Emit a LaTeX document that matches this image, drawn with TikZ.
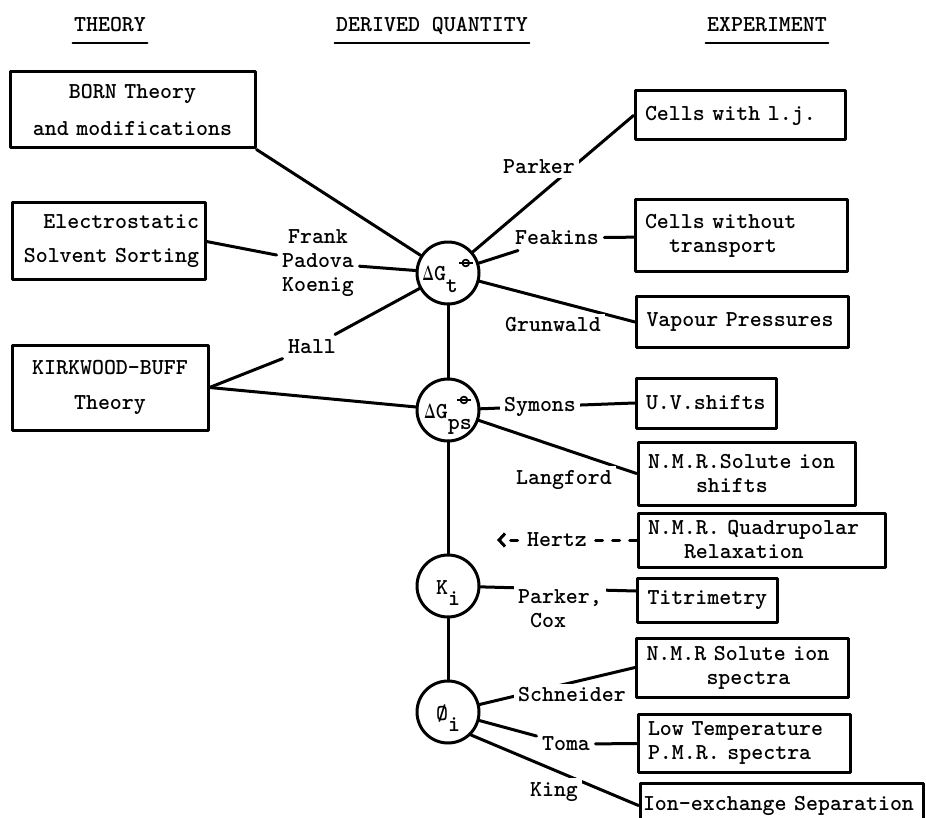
\documentclass[tikz,border=0pt]{standalone}
\usepackage{graphicx}
\usetikzlibrary{arrows.meta}
% standard-state sign, Delta G, lowered subscript
\newcommand{\plim}{\tikz[baseline=0pt,line width=1.7pt]{\draw (0pt,0pt) circle (3.4pt); \draw (-7pt,0pt) -- (7pt,0pt);}}
\newcommand{\dG}{\scalebox{0.6}[1]{$\boldsymbol{\Delta}$}G}
\newcommand{\lo}[1]{\raisebox{-11pt}{#1}}
\usepackage{amsmath}
\begin{document}
\begin{tikzpicture}[x=1pt,y=-1pt,line width=3pt,line join=round,line cap=round,
  >={Straight Barb[length=6pt,width=13pt]},
  font=\fontsize{22.8}{24}\selectfont\ttfamily\bfseries\frenchspacing,
  head/.style={anchor=base,inner sep=0pt},
  uline/.style={line width=2.2pt},
  box/.style={draw,inner xsep=10pt,inner ysep=0pt,align=left},
  qty/.style={circle,draw,minimum size=62pt,inner sep=0pt,text height=16pt,text depth=0pt},
  lbl/.style={fill=white,inner sep=4pt}]
\useasboundingbox (0,0) rectangle (926,818);

% headings
\node[head] (th) at (110,32) {THEORY};
\node[head] (dq) at (432,32) {DERIVED QUANTITY};
\node[head] (ex) at (767,32) {EXPERIMENT};
\draw[uline] ([yshift=-11pt]th.base west) -- ([yshift=-11pt]th.base east);
\draw[uline] ([yshift=-11pt]dq.base west) -- ([yshift=-11pt]dq.base east);
\draw[uline] ([yshift=-11pt]ex.base west) -- ([yshift=-11pt]ex.base east);

% theory
\node[box,align=center,text width=225pt,minimum height=76pt] (born) at (132.5,110) {BORN Theory\\[13pt]and modifications};
\node[box,align=right,inner xsep=6pt,text width=181pt,minimum height=77pt] (es) at (108.5,241.5) {Electrostatic\\[10pt]Solvent Sorting};
\node[box,align=center,text width=176pt,minimum height=85pt] (kb) at (110,387.5) {KIRKWOOD-BUFF\\[11pt]Theory};

% derived quantities
\node[qty] (dgt) at (448,273) {\dG\lo{t}\raisebox{18pt}{\plim}};
\node[qty] (dgps) at (448,410) {\dG\lo{ps}\llap{\raisebox{18pt}{\plim}}};
\node[qty] (ki) at (448,586) {K\lo{i}};
\node[qty] (phi) at (448,712) {\O\lo{i}};

% experiment
\node[box,text width=190pt,minimum height=49pt] (lj) at (740,115.5) {Cells with l.j.};
\node[box,text width=192pt,minimum height=72pt] (cwt) at (741,236) {Cells without\\\hspace*{24pt}transport};
\node[box,text width=192pt,minimum height=50pt] (vp) at (742.5,322) {Vapour Pressures};
\node[box,text width=120pt,minimum height=50pt] (uv) at (706,403) {U.V.shifts};
\node[box,text width=197pt,minimum height=63pt] (nmrs) at (746.5,473.5) {N.M.R.Solute ion\\\hspace*{48pt}shifts};
\node[box,text width=227pt,minimum height=54pt] (nmrq) at (761.5,540) {N.M.R. Quadrupolar\\\hspace*{36pt}Relaxation};
\node[box,text width=120pt,minimum height=44pt] (tit) at (707.5,600) {Titrimetry};
\node[box,text width=192pt,minimum height=59pt] (nmrsp) at (742.5,667.5) {N.M.R Solute ion\\\hspace*{60pt}spectra};
\node[box,text width=192pt,minimum height=58pt] (lowt) at (744,743) {Low Temperature\\P.M.R. spectra};
\node[box,inner xsep=3pt,text width=277pt,minimum height=45pt] (ionx) at (781.5,805.5) {Ion-exchange Separation};

% names that break a line
\node[lbl,align=center] (fpk) at (318,263) {Frank\\Padova\\Koenig};
\node[lbl] (hall) at (312,347) {Hall};
\node[lbl] (feakins) at (557,238) {Feakins};
\node[lbl] (toma) at (566,744) {Toma};
\coordinate (hz) at (497,540);

\draw (born.south east) -- (dgt);
\draw (es.east) -- (fpk) -- (dgt);
\draw (kb.east) -- (hall) -- (dgt);
\draw (kb.east) -- (dgps);
\draw (dgt) -- (lj.west);
\draw (dgt) -- (feakins) -- (cwt);
\draw (dgt) -- (vp.west);
\draw (dgt) -- (dgps) -- (ki) -- (phi);
\draw (dgps) -- (uv.west);
\draw (dgps) -- (nmrs.west);
\draw[dashed,dash pattern=on 7pt off 10pt,->] (nmrq.west) -- (hz);
\draw (ki) -- ([yshift=9pt]tit.west);
\draw (phi) -- (nmrsp.west);
\draw (phi) -- (toma) -- (lowt);
\draw (phi.south east) -- (ionx.west);

% names over or beside a line
\node[lbl] (parker) at (539,167) {Parker};
\node[lbl] (grun) at (553,325) {Grunwald};
\node[lbl] (symons) at (540,407) {Symons};
\node[lbl] (langford) at (564,480) {Langford};
\node[lbl] (hertz) at (557,540) {Hertz};
\node[lbl,align=left] (parkercox) at (560,609) {Parker,\\\hspace*{12pt}Cox};
\node[lbl] (schneider) at (572,695) {Schneider};
\node[lbl] (king) at (554,792) {King};
\end{tikzpicture}
\end{document}
